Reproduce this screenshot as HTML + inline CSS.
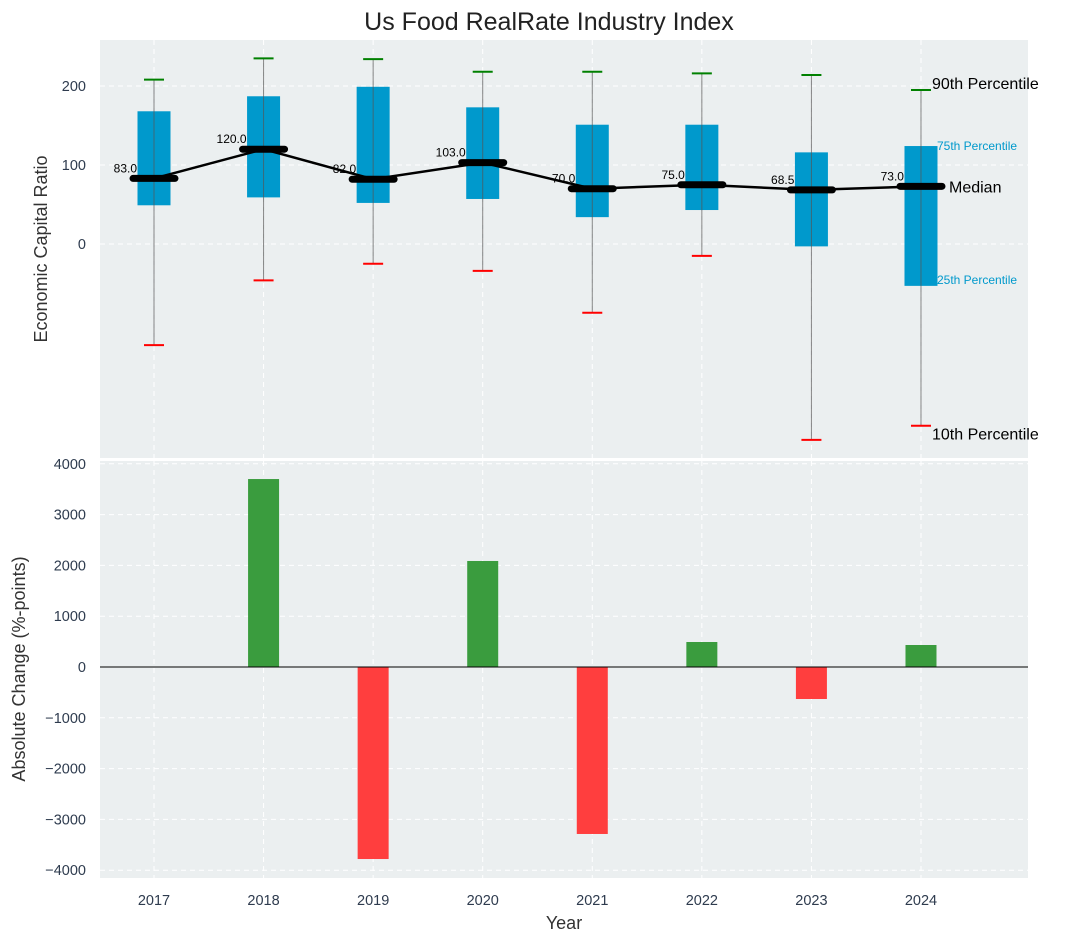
<!DOCTYPE html>
<html><head><meta charset="utf-8"><style>
body{margin:0;background:#fff;}
svg text{font-family:"Liberation Sans","DejaVu Sans",sans-serif;}
</style></head><body>
<svg id="chart" width="1067" height="942" xmlns="http://www.w3.org/2000/svg">
<text x="549" y="30" font-size="25" text-anchor="middle" fill="#222">Us Food RealRate Industry Index</text>
<g id="topPanel"></g>
<g id="botPanel"></g>
</svg>
<script>
const years=["2017","2018","2019","2020","2021","2022","2023","2024"];
const p10=[-128,-46,-25,-34,-87,-15,-248,-230];
const p25=[49,59,52,57,34,43,-3,-53];
const medians=[83,120,82,103,70,75,68.5,73];
const p75=[168,187,199,173,151,151,116,124];
const p90=[208,235,234,218,218,216,214,195];
const changes=[0,3700,-3780,2087,-3287,492,-630,433];
const topTicks=[0,100,200];
const botTicks=[-4000,-3000,-2000,-1000,0,1000,2000,3000,4000];

const NS="http://www.w3.org/2000/svg";
const L=100,R=1028;
const X=i=>154+i*109.57;
const Yt=v=>244-v*0.79;
const Yb=v=>667-v*0.0508;
function mk(p,t,a){const e=document.createElementNS(NS,t);for(const k in a)e.setAttribute(k,a[k]);p.appendChild(e);return e;}
const topG=document.getElementById('topPanel'),botG=document.getElementById('botPanel');

let r=mk(topG,'rect',{x:L,y:40,width:R-L,height:418,fill:'#ebeff0'});


r=mk(botG,'rect',{x:L,y:461,width:R-L,height:417,fill:'#ebeff0'});



years.forEach((y,i)=>{
 let g=mk(topG,'line',{x1:X(i),x2:X(i),y1:40,y2:458,stroke:'#fff','stroke-dasharray':'5,4','stroke-width':1});
 
 
 g=mk(botG,'line',{x1:X(i),x2:X(i),y1:461,y2:878,stroke:'#fff','stroke-dasharray':'5,4','stroke-width':1});
 
 
 const t=mk(botG,'text',{x:X(i),y:905,'font-size':14.5,'text-anchor':'middle',fill:'#2e3b4e'});t.textContent=y;
 
 
});
topTicks.forEach(v=>{
 const g=mk(topG,'line',{x1:L,x2:R,y1:Yt(v),y2:Yt(v),stroke:'#fff','stroke-dasharray':'5,4'});
 
 
 const t=mk(topG,'text',{x:86,y:Yt(v)+5,'font-size':14.5,'text-anchor':'end',fill:'#2e3b4e'});t.textContent=v;
 
 
});
botTicks.forEach(v=>{
 const g=mk(botG,'line',{x1:L,x2:R,y1:Yb(v),y2:Yb(v),stroke:'#fff','stroke-dasharray':'5,4'});
 
 
 const t=mk(botG,'text',{x:86,y:Yb(v)+5,'font-size':14.5,'text-anchor':'end',fill:'#2e3b4e'});t.textContent=v<0?'\u2212'+(-v):v;
 
 
});

const bw=33;
years.forEach((y,i)=>{
 const x=X(i);
 const b=mk(topG,'rect',{x:x-bw/2,y:Yt(p75[i]),width:bw,height:Yt(p25[i])-Yt(p75[i]),fill:'#0099cc'});
 
 
 const w=mk(topG,'line',{x1:x,x2:x,y1:Yt(p90[i]),y2:Yt(p10[i]),stroke:'#555','stroke-width':1,opacity:0.7});
 
 
 const c1=mk(topG,'line',{x1:x-10,x2:x+10,y1:Yt(p90[i]),y2:Yt(p90[i]),stroke:'green','stroke-width':2});
 
 
 const c2=mk(topG,'line',{x1:x-10,x2:x+10,y1:Yt(p10[i]),y2:Yt(p10[i]),stroke:'red','stroke-width':2});
 
 
});
const ml=mk(topG,'polyline',{points:medians.map((m,i)=>X(i)+','+Yt(m)).join(' '),fill:'none',stroke:'#000','stroke-width':2.5});


medians.forEach((m,i)=>{
 const x=X(i);
 const s=mk(topG,'line',{x1:x-21,x2:x+21,y1:Yt(m),y2:Yt(m),stroke:'#000','stroke-width':7,'stroke-linecap':'round'});
 
 
 const t=mk(topG,'text',{x:x-17,y:Yt(m)-6,'font-size':12,'text-anchor':'end',fill:'#000'});t.textContent=m.toFixed(1);
 
 
});
const li=7,lx=X(li);
[[p90[li],'90th Percentile',16,'#000',lx+11,-1],[p75[li],'75th Percentile',12,'#0099cc',lx+16,4],
 [medians[li],'Median',16,'#000',lx+28,6],[p25[li],'25th Percentile',12,'#0099cc',lx+16,-2],[p10[li],'10th Percentile',16,'#000',lx+11,14]]
.forEach(a=>{const t=mk(topG,'text',{x:a[4],y:Yt(a[0])+a[5],'font-size':a[2],fill:a[3]});t.textContent=a[1];
 
 });

const barW=31;
changes.forEach((v,i)=>{
 const b=mk(botG,'rect',{x:X(i)-barW/2,y:Math.min(Yb(v),Yb(0)),width:barW,height:Math.abs(Yb(v)-Yb(0)),fill:v>=0?'#3a9c3e':'#ff3e3e'});
 
 
});
const z=mk(botG,'line',{x1:L,x2:R,y1:Yb(0),y2:Yb(0),stroke:'#000','stroke-width':1});



let t=mk(topG,'text',{x:0,y:0,'font-size':18,'text-anchor':'middle',fill:'#333',transform:'translate(47,249) rotate(-90)'});t.textContent='Economic Capital Ratio';


t=mk(botG,'text',{x:0,y:0,'font-size':18,'text-anchor':'middle',fill:'#333',transform:'translate(25,669) rotate(-90)'});t.textContent='Absolute Change (%-points)';


t=mk(botG,'text',{x:564,y:929,'font-size':18,'text-anchor':'middle',fill:'#333'});t.textContent='Year';


</script>
</body></html>
